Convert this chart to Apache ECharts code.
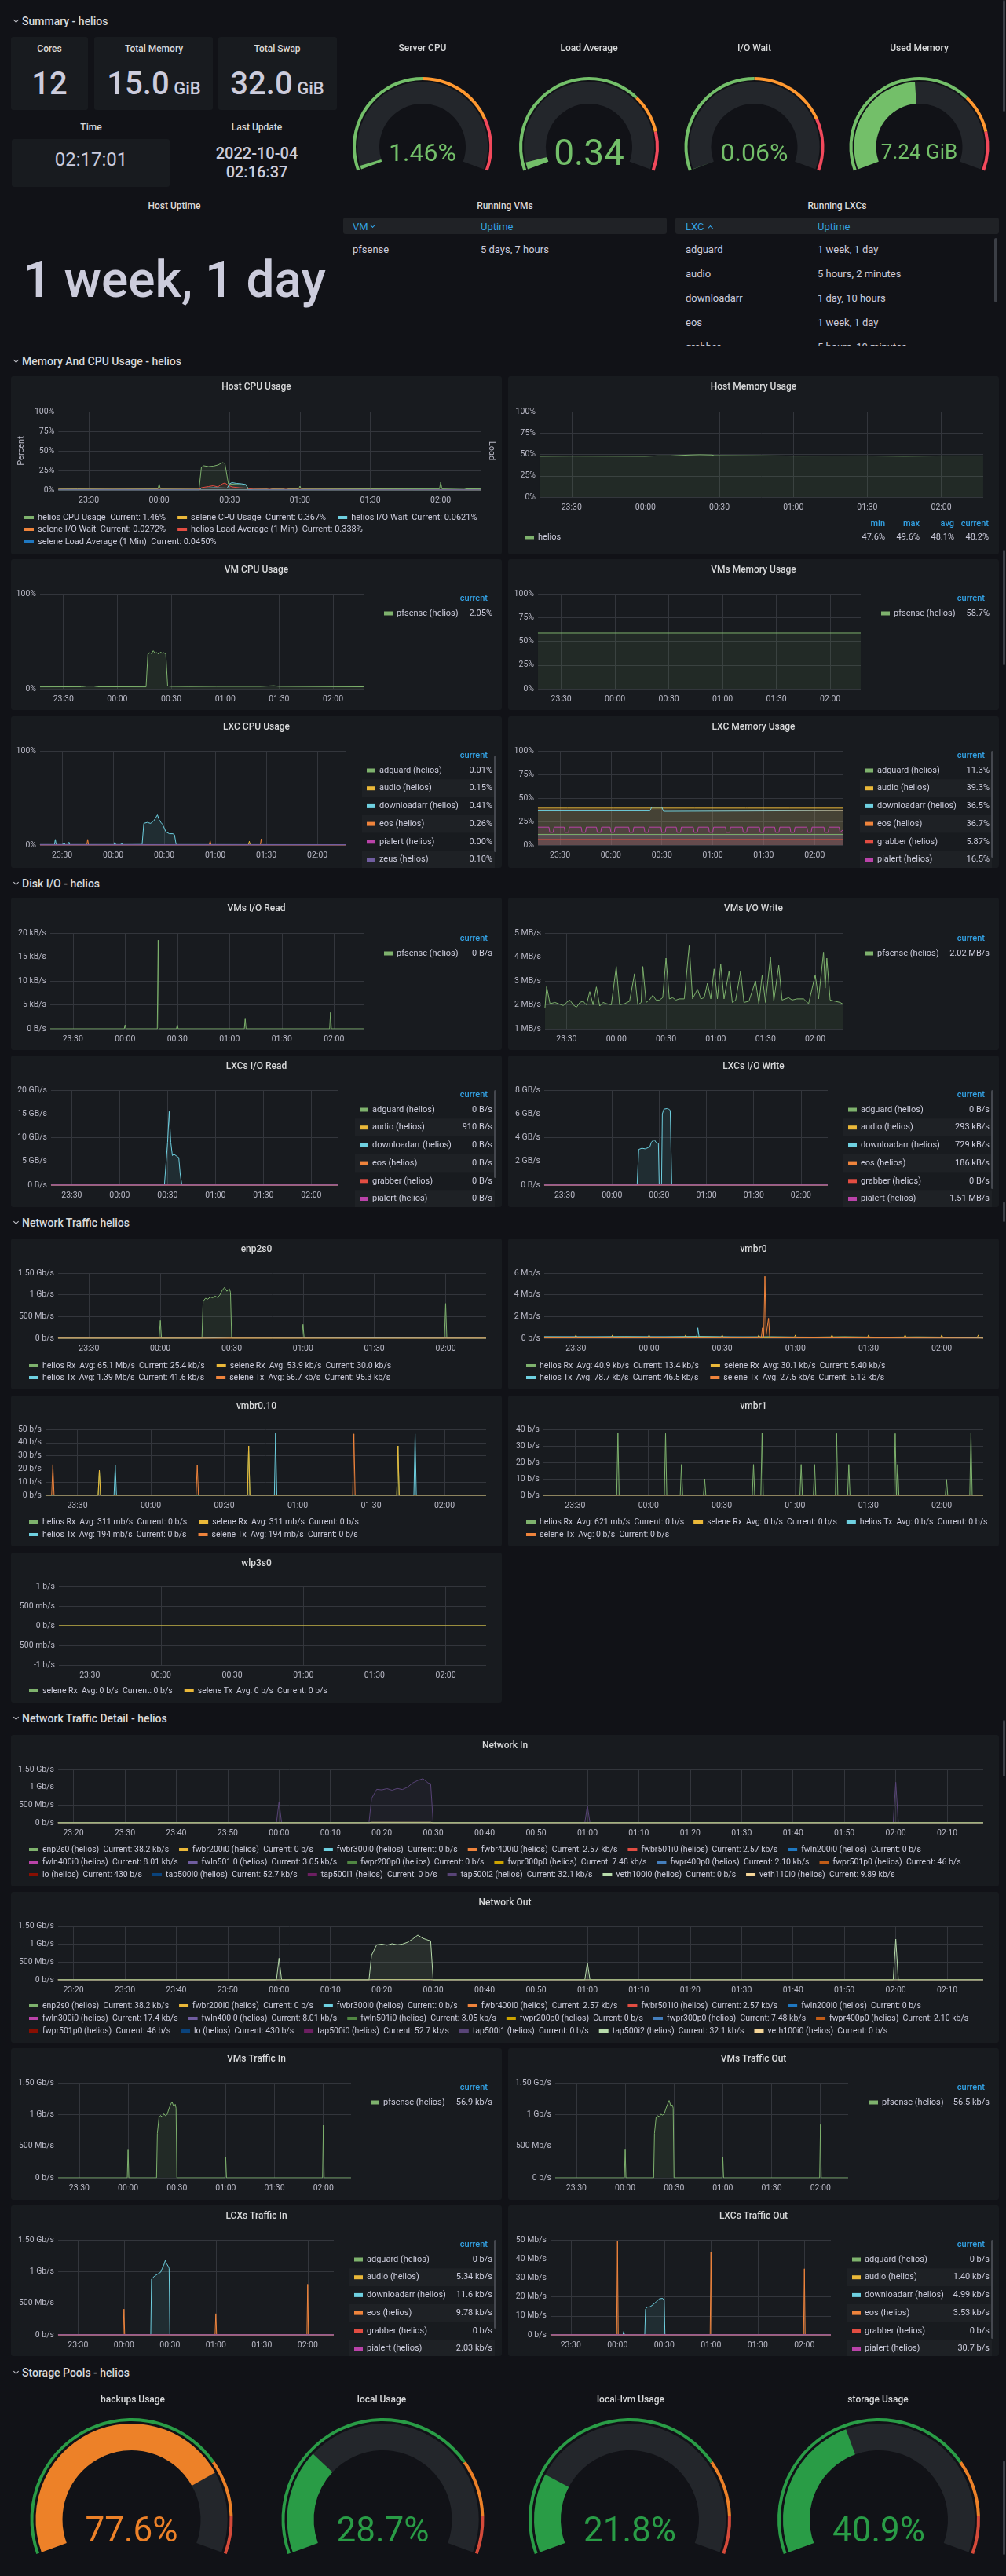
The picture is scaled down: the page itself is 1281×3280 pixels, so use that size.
<!DOCTYPE html>
<html>
<head>
<meta charset="utf-8">
<title>Proxmox - helios</title>
<script src="https://cdn.jsdelivr.net/npm/echarts@6.0.0/dist/echarts.min.js"></script>
<style>
html,body{margin:0;padding:0;background:#111217;}
body{position:relative;width:1281px;height:3280px;overflow:hidden;font-family:Roboto,"Noto Sans",sans-serif;color:#ccccdc;}
.panel{position:absolute;background:#181b1f;border-radius:3px;overflow:hidden;}
.c{position:absolute;white-space:nowrap;transform:translate(-50%,-50%);line-height:1;}
.l{position:absolute;white-space:nowrap;transform:translateY(-50%);line-height:1;}
.row{position:absolute;left:28px;font-size:14px;font-weight:500;color:#d8d9da;transform:translateY(-50%);line-height:1;white-space:nowrap;}
.chev{position:absolute;width:4px;height:4px;border-right:1.4px solid #c7c7cf;border-bottom:1.4px solid #c7c7cf;transform:rotate(45deg);}
.pt{font-size:12px;font-weight:500;color:#d8d9da;}
.th{font-size:13px;color:#33a2e5;}
.td{font-size:13px;color:#ccccdc;}
.sb{position:absolute;background:#3b3e45;border-radius:2px;}
.big{color:#ccccdc;font-weight:500;}
</style>
</head>
<body>
<script>
// ======================= DATA =======================
// --- Summary stats
const statCores = '12';
const statMemory = ['15.0', 'GiB'];
const statSwap = ['32.0', 'GiB'];
const statTime = '02:17:01';
const statLastUpdate = ['2022-10-04', '02:16:37'];
const statUptime = '1 week, 1 day';
const vmHeader = ['VM', 'Uptime'];
const vmRows = [['pfsense', '5 days, 7 hours']];
const lxcHeader = ['LXC', 'Uptime'];
const lxcRows = [['adguard', '1 week, 1 day'], ['audio', '5 hours, 2 minutes'], ['downloadarr', '1 day, 10 hours'], ['eos', '1 week, 1 day'], ['grabber', '5 hours, 10 minutes']];

// --- Summary gauges
const topGaugeNames = ['Server CPU', 'Load Average', 'I/O Wait', 'Used Memory'];
const topGaugeValues = [1.46, 0.34, 0.06, 7.24];
const topGaugeMax = [100, 12, 100, 15];
const topGaugeUnits = ['%', '', '%', ' GiB'];
const topGaugeSteps = [[0.5, 0.8], [0.7, 0.85], [0.5, 0.8], [0.7, 0.85]];

// --- Storage pools
const poolNames = ['backups Usage', 'local Usage', 'local-lvm Usage', 'storage Usage'];
const poolValues = [77.6, 28.7, 21.8, 40.9];
const poolSteps = [0.75, 0.9];

// --- time axis ticks
const TICKS30 = ['23:30', '00:00', '00:30', '01:00', '01:30', '02:00'];
const TICKS10 = ['23:20', '23:30', '23:40', '23:50', '00:00', '00:10', '00:20', '00:30', '00:40', '00:50', '01:00', '01:10', '01:20', '01:30', '01:40', '01:50', '02:00', '02:10'];

const ZERO = [['23:17', 0], ['02:17', 0]];

// --- Host CPU Usage (%)
const hostCpuNames = ['helios CPU Usage', 'selene CPU Usage', 'helios I/O Wait', 'selene I/O Wait', 'helios Load Average (1 Min)', 'selene Load Average (1 Min)'];
const hostCpuCurrent = ['1.46%', '0.367%', '0.0621%', '0.0272%', '0.338%', '0.0450%'];
const cpuHeliosCpu = [['23:17',1.6],['23:25',1.5],['23:40',1.7],['23:59:30',1.5],['00:00',7.5],['00:00:30',1.6],['00:17',1.8],['00:18',29],['00:19',31],['00:21',30],['00:23',30.5],['00:25',32],['00:27',35],['00:28',34],['00:29:30',8],['00:31',7.5],['00:34',7],['00:37',6.5],['00:38',2],['00:46',1.6],['00:47',2.6],['00:48',1.5],['00:53',1.6],['00:54',2.4],['00:55',1.5],['00:59:30',1.5],['01:00',5],['01:00:30',1.6],['01:30',1.5],['01:59:30',1.6],['02:00',10],['02:00:30',1.6],['02:10',2.2],['02:11',1.5],['02:17',1.46]];
const cpuSeleneCpu = [['23:17',0.5],['00:46:30',0.5],['00:47',2],['00:47:30',0.5],['00:52:30',0.5],['00:53',2],['00:53:30',0.5],['02:17',0.37]];
const cpuHeliosIo = [['23:17',0.2],['00:17',0.2],['00:18',2.5],['00:24',3],['00:29',2.5],['00:30',8],['00:31',9.5],['00:33',8.5],['00:35',8],['00:37',7],['00:38',0.3],['02:17',0.06]];
const cpuSeleneIo = [['23:17',0.1],['02:17',0.03]];
const cpuHeliosLoad = [['23:17',0.8],['00:17',0.8],['00:18',3],['00:21',4.5],['00:23',5.5],['00:25',4],['00:27',8],['00:28',9],['00:29',7],['00:31',4],['00:34',3],['00:37',2.5],['00:40',1],['01:00',0.8],['02:17',0.34]];
const cpuSeleneLoad = [['23:17',0.1],['02:17',0.05]];

// --- Host Memory Usage (%)
const hostMemStats = ['47.6%', '49.6%', '48.1%', '48.2%'];
const hostMemHelios = [['23:17',47.8],['23:30',48.0],['23:45',47.9],['00:00',47.8],['00:05',48.3],['00:10',48.3],['00:18',49.3],['00:22',49.6],['00:27',49.3],['00:28',48.6],['00:45',48.4],['01:00',48.1],['01:30',48.2],['01:45',47.9],['02:00',48.2],['02:17',48.2]];

// --- VM CPU / Memory (%)
const vmCpuCurrent = ['2.05%'];
const vmCpuPfsense = [['23:17',2],['23:40',2.1],['23:43',2.8],['23:47',2.8],['23:49',2.1],['00:16',2.0],['00:17',36],['00:18',38],['00:19',37],['00:20',40],['00:21',37.5],['00:22',38],['00:23',36.5],['00:24',38.5],['00:25',37.5],['00:26',38],['00:27',36],['00:28',3],['00:30',2.5],['00:40',2.3],['00:55',2.5],['01:20',2.5],['01:27',3.2],['01:30',2.5],['02:00',2.2],['02:17',2.05]];
const vmMemCurrent = ['58.7%'];
const vmMemPfsense = [['23:17',58.7],['02:17',58.7]];

// --- LXC CPU (%)
const lxcCpuNames = ['adguard (helios)', 'audio (helios)', 'downloadarr (helios)', 'eos (helios)', 'pialert (helios)', 'zeus (helios)'];
const lxcCpuCurrent = ['0.01%', '0.15%', '0.41%', '0.26%', '0.00%', '0.10%'];
const lxcCpuAdguard = [['23:17',0.3],['02:17',0.3]];
const lxcCpuAudio = [['23:17',0.2],['01:19:30',0.2],['01:20',4],['01:20:30',0.2],['02:17',0.15]];
const lxcCpuDownloadarr = [['23:17',0.5],['23:25:30',0.5],['23:26',6],['23:26:30',0.5],['23:30',0.5],['23:31',2],['23:32',0.5],['23:33:30',0.5],['23:34',3],['23:34:30',0.5],['00:00:30',0.5],['00:01',3],['00:01:30',0.5],['00:04:30',0.5],['00:05',2.5],['00:05:30',0.5],['00:17',0.6],['00:18',23],['00:20',24],['00:22',23],['00:24',26],['00:25',29],['00:26',32],['00:27',27],['00:28',24],['00:29',22],['00:31',14],['00:33',12],['00:35',12],['00:36',11],['00:37',0.5],['02:17',0.41]];
const lxcCpuEos = [['23:17',0.3],['23:44:30',0.3],['23:45',6],['23:45:30',0.3],['00:56:30',0.3],['00:57',4.5],['00:57:30',0.3],['01:26:30',0.3],['01:27',6.5],['01:27:30',0.3],['02:17',0.26]];
const lxcCpuPialert = ZERO;
const lxcCpuZeus = [['23:17',0.5],['02:17',0.4]];

// --- LXC Memory (%)
const lxcMemNames = ['adguard (helios)', 'audio (helios)', 'downloadarr (helios)', 'eos (helios)', 'grabber (helios)', 'pialert (helios)'];
const lxcMemCurrent = ['11.3%', '39.3%', '36.5%', '36.7%', '5.87%', '16.5%'];
const lxcMemAdguard = [['23:17',11.3],['02:17',11.3]];
const lxcMemAudio = [['23:17',39.3],['23:34:30',39.3],['23:35',40.5],['23:35:30',39.3],['00:00:30',39.3],['00:01',40.5],['00:01:30',39.3],['00:49:30',39.3],['00:50',40.5],['00:50:30',39.3],['01:19:30',39.3],['01:20',40.5],['01:20:30',39.3],['01:44:30',39.3],['01:45',40.5],['01:45:30',39.3],['02:17',39.3]];
const lxcMemDownloadarr = [['23:17',36.3],['00:23',36.3],['00:24',40.2],['00:30',40.2],['00:31',35.8],['01:00',36.0],['02:17',36.5]];
const lxcMemEos = [['23:17',37.3],['00:30',37.2],['01:00',37.0],['02:17',36.7]];
const lxcMemGrabber = [['23:17',5.87],['02:17',5.87]];
const lxcMemPialert = [['23:17',19],
 ['23:23:30',19],['23:24',13.5],['23:26',13.5],['23:26:30',19],
 ['23:32:30',19],['23:33',13.5],['23:35',13.5],['23:35:30',19],
 ['23:42:30',19],['23:43',13.5],['23:45',13.5],['23:45:30',19],
 ['23:51:30',19],['23:52',13.5],['23:54',13.5],['23:54:30',19],
 ['23:59:30',19],['00:00',13.5],['00:02',13.5],['00:02:30',19],
 ['00:10:30',19],['00:11',13.5],['00:13',13.5],['00:13:30',19],
 ['00:19:30',19],['00:20',13.5],['00:22',13.5],['00:22:30',19],
 ['00:29:30',19],['00:30',13.5],['00:32',13.5],['00:32:30',19],
 ['00:38:30',19],['00:39',13.5],['00:41',13.5],['00:41:30',19],
 ['00:48:30',19],['00:49',13.5],['00:51',13.5],['00:51:30',19],
 ['00:57:30',19],['00:58',13.5],['01:00',13.5],['01:00:30',19],
 ['01:07:30',19],['01:08',13.5],['01:10',13.5],['01:10:30',19],
 ['01:17:30',19],['01:18',13.5],['01:20',13.5],['01:20:30',19],
 ['01:27:30',19],['01:28',13.5],['01:30',13.5],['01:30:30',19],
 ['01:36:30',19],['01:37',13.5],['01:39',13.5],['01:39:30',19],
 ['01:45:30',19],['01:46',13.5],['01:48',13.5],['01:48:30',19],
 ['01:55:30',19],['01:56',13.5],['01:58',13.5],['01:58:30',19],
 ['02:05:30',19],['02:06',13.5],['02:08',13.5],['02:08:30',19],
 ['02:14:30',19],['02:15',13.5],['02:17',16.5]];
const lxcMemZeus = [['23:17',9.8],['02:17',9.8]];

// --- VMs I/O (kB/s read, MB/s write)
const vmReadCurrent = ['0 B/s'];
const vmReadPfsense = [['23:17',0],['23:59:30',0],['00:00',0.8],['00:00:30',0],['00:18:30',0],['00:19',18.5],['00:19:30',0],['00:29:30',0],['00:30',0.8],['00:30:30',0],['01:08:30',0],['01:09',2.2],['01:09:30',0],['01:57:30',0],['01:58',3.4],['01:58:30',0],['02:17',0]];
const vmWriteCurrent = ['2.02 MB/s'];
const vmWritePfsense = [['23:17',1.88],['23:18',2.76],['23:20',2.05],['23:23',2.1],['23:25',2.05],['23:28',1.97],['23:30',2.1],['23:32',2.2],['23:34',2.0],['23:36',1.9],['23:38',2.1],['23:40',2.15],['23:42',2.0],['23:44',2.55],['23:46',2.0],['23:48',2.75],['23:50',1.95],['23:52',2.1],['23:54',2.05],['23:57',2.0],['00:00',3.6],['00:02',2.0],['00:05',2.05],['00:08',2.15],['00:11',3.3],['00:13',2.0],['00:15',2.1],['00:16',3.6],['00:18',2.1],['00:20',2.2],['00:22',2.4],['00:24',2.2],['00:26',2.2],['00:28',2.3],['00:30',3.95],['00:32',2.25],['00:34',2.3],['00:36',2.2],['00:38',2.25],['00:41',2.25],['00:44',4.5],['00:46',2.25],['00:49',2.65],['00:51',2.25],['00:53',2.3],['00:55',2.9],['00:57',2.25],['00:59',3.5],['01:01',2.25],['01:03',3.7],['01:05',2.25],['01:08',3.4],['01:10',2.1],['01:12',2.2],['01:15',3.4],['01:17',2.1],['01:20',2.15],['01:24',3.0],['01:26',2.05],['01:28',3.25],['01:30',2.1],['01:33',4.0],['01:35',2.15],['01:38',3.65],['01:40',2.2],['01:44',2.3],['01:46',2.2],['01:49',2.25],['01:53',2.25],['01:56',2.05],['02:00',3.25],['02:02',2.25],['02:05',4.2],['02:06',2.7],['02:07',3.95],['02:09',2.2],['02:12',2.15],['02:15',2.1],['02:17',2.02]];

// --- LXCs I/O (GB/s)
const lxcIoNames = ['adguard (helios)', 'audio (helios)', 'downloadarr (helios)', 'eos (helios)', 'grabber (helios)', 'pialert (helios)'];
const lxcReadCurrent = ['0 B/s', '910 B/s', '0 B/s', '0 B/s', '0 B/s', '0 B/s'];
const lxcReadDownloadarr = [['23:17',0],['00:28',0],['00:30',9],['00:31',15.5],['00:32',9],['00:33',6.2],['00:34',6.5],['00:36',6.0],['00:37',5.8],['00:38',2],['00:39',0],['02:17',0]];
const lxcWriteCurrent = ['0 B/s', '293 kB/s', '729 kB/s', '186 kB/s', '0 B/s', '1.51 MB/s'];
const lxcWriteDownloadarr = [['23:17',0],['00:16',0],['00:17',3.0],['00:19',3.1],['00:21',3.05],['00:23',3.15],['00:24',3.2],['00:25',3.6],['00:26',3.75],['00:27',3.8],['00:28',3.6],['00:29:30',3.5],['00:30',0.1],['00:31:30',0.1],['00:32',6.0],['00:33',6.4],['00:35',6.45],['00:36',6.4],['00:37',6.3],['00:38',0],['02:17',0]];

// --- Network Traffic (per-interface)
const trafficNames = ['helios Rx', 'selene Rx', 'helios Tx', 'selene Tx'];
const enpAvg = ['65.1 Mb/s', '53.9 kb/s', '1.39 Mb/s', '66.7 kb/s'];
const enpCur = ['25.4 kb/s', '30.0 kb/s', '41.6 kb/s', '95.3 kb/s'];
const enpHeliosRx = [['23:17',0.1],['23:59:30',0.1],['00:00',410],['00:00:30',0.1],['00:17:30',0.1],['00:18',850],['00:19',920],['00:20',900],['00:21',950],['00:22',930],['00:23',970],['00:24',940],['00:25',990],['00:26',1100],['00:27',1170],['00:28',1080],['00:29',1140],['00:29:30',1060],['00:30',0.1],['00:59:30',0.1],['01:00',320],['01:00:30',0.1],['01:59:30',0.1],['02:00',800],['02:00:30',0.1],['02:17',0.03]];
const enpSeleneRx = [['23:17',0.05],['02:17',0.03]];
const enpHeliosTx = [['23:17',1],['00:17:30',1],['00:18',20],['00:29:30',20],['00:30',1],['02:17',0.04]];
const enpSeleneTx = [['23:17',0.1],['02:17',0.1]];

const vmbr0Avg = ['40.9 kb/s', '30.1 kb/s', '78.7 kb/s', '27.5 kb/s'];
const vmbr0Cur = ['13.4 kb/s', '5.40 kb/s', '46.5 kb/s', '5.12 kb/s'];
const vmbr0HeliosRx = [['23:17',0.12],['23:35',0.1],['23:50',0.15],['00:05',0.1],['00:20',0.18],['00:35',0.1],['00:50',0.14],['01:05',0.1],['01:20',0.15],['01:35',0.1],['01:50',0.13],['02:05',0.1],['02:17',0.013]];
const vmbr0SeleneRx = [['23:17',0.05],['23:29:30',0.05],['23:30',0.3],['23:30:30',0.05],['23:44:30',0.05],['23:45',0.3],['23:45:30',0.05],['23:59:30',0.05],['00:00',0.3],['00:00:30',0.05],['00:14:30',0.05],['00:15',0.3],['00:15:30',0.05],['00:29:30',0.05],['00:30',0.3],['00:30:30',0.05],['00:44:30',0.05],['00:45',0.3],['00:45:30',0.05],['00:59:30',0.05],['01:00',0.3],['01:00:30',0.05],['01:14:30',0.05],['01:15',0.3],['01:15:30',0.05],['01:29:30',0.05],['01:30',0.3],['01:30:30',0.05],['01:44:30',0.05],['01:45',0.3],['01:45:30',0.05],['01:59:30',0.05],['02:00',0.3],['02:00:30',0.05],['02:14:30',0.05],['02:15',0.3],['02:15:30',0.05],['02:17',0.005]];
const vmbr0HeliosTx = [['23:17',0.15],['00:19:30',0.15],['00:20',0.96],['00:20:30',0.15],['02:17',0.05]];
const vmbr0SeleneTx = [['23:17',0.05],['00:46',0.05],['00:46:30',0.96],['00:47',0.05],['00:47:30',5.7],['00:48',0.3],['00:48:30',0.3],['00:49',1.85],['00:49:30',0.05],['02:17',0.005]];

const vmbr010Avg = ['311 mb/s', '311 mb/s', '194 mb/s', '194 mb/s'];
const vmbr010Cur = ['0 b/s', '0 b/s', '0 b/s', '0 b/s'];
const vmbr010SeleneRx = [['23:17',0],['23:38:30',0],['23:39',19],['23:39:30',0],['00:39:30',0],['00:40',37.5],['00:40:30',0],['01:40:30',0],['01:41',37.5],['01:41:30',0],['02:17',0]];
const vmbr010HeliosRx = vmbr010SeleneRx;
const vmbr010HeliosTx = [['23:17',0],['23:45',0],['23:45:30',23],['23:46',0],['00:50:30',0],['00:51',47],['00:51:30',0],['01:47:30',0],['01:48',46.6],['01:48:30',0],['02:17',0]];
const vmbr010SeleneTx = [['23:17',0],['23:19:30',0],['23:20',23.3],['23:20:30',0],['00:18:30',0],['00:19',23],['00:19:30',0],['01:22:30',0],['01:23',46.6],['01:23:30',0],['02:17',0]];

const vmbr1Avg = ['621 mb/s', '0 b/s', '0 b/s', '0 b/s'];
const vmbr1Cur = ['0 b/s', '0 b/s', '0 b/s', '0 b/s'];
const vmbr1HeliosRx = [['23:17',0],['23:47',0],['23:47:30',37.8],['23:48',0],['00:06:30',0],['00:07',37.5],['00:07:30',0],['00:13',0],['00:13:30',18.7],['00:14',0],['00:22:30',0],['00:23',10],['00:23:30',0],['00:42:30',0],['00:43',18.7],['00:43:30',0],['00:46',0],['00:46:30',37.8],['00:47',0],['01:02',0],['01:02:30',18.7],['01:03',0],['01:07:30',0],['01:08',18.7],['01:08:30',0],['01:16:30',0],['01:17',37.5],['01:17:30',0],['01:21:30',0],['01:22',18.7],['01:22:30',0],['01:40:30',0],['01:41',37.5],['01:41:30',0],['01:42',18.7],['01:42:30',0],['02:01:30',0],['02:02',9.7],['02:02:30',0],['02:11:30',0],['02:12',37.8],['02:12:30',0],['02:17',0]];

const wlpNames = ['selene Rx', 'selene Tx'];
const wlpAvg = ['0 b/s', '0 b/s'];
const wlpCur = ['0 b/s', '0 b/s'];

// --- Network Traffic Detail (Mb/s)
const netInNames = ['enp2s0','fwbr200i0','fwbr300i0','fwbr400i0','fwbr501i0','fwln200i0','fwln400i0','fwln501i0','fwpr200p0','fwpr300p0','fwpr400p0','fwpr501p0','lo','tap500i0','tap500i1','tap500i2','veth100i0','veth110i0'];
const netInCurrent = ['38.2 kb/s','0 b/s','0 b/s','2.57 kb/s','2.57 kb/s','0 b/s','8.01 kb/s','3.05 kb/s','0 b/s','7.48 kb/s','2.10 kb/s','46 b/s','430 b/s','52.7 kb/s','0 b/s','32.1 kb/s','0 b/s','9.89 kb/s'];
const netInTap500i2 = [['23:17',0.05],['23:59:30',0.05],['00:00',595],['00:00:30',0.05],['00:17:30',0.05],['00:18',680],['00:19',940],['00:20',925],['00:21',960],['00:22',915],['00:23',965],['00:24',935],['00:25',1000],['00:26',1120],['00:27',1190],['00:28',1240],['00:29',1120],['00:29:30',1100],['00:30',0.05],['00:59:30',0.05],['01:00',478],['01:00:30',0.05],['01:59:30',0.05],['02:00',1140],['02:00:30',0.05],['02:17',0.03]];
const netInVeth110i0 = [['23:17',0.01],['00:17:30',0.01],['00:18',15],['00:29:30',15],['00:30',0.01],['02:17',0.01]];
const netOutNames = ['enp2s0','fwbr200i0','fwbr300i0','fwbr400i0','fwbr501i0','fwln200i0','fwln300i0','fwln400i0','fwln501i0','fwpr200p0','fwpr300p0','fwpr400p0','fwpr501p0','lo','tap500i0','tap500i1','tap500i2','veth100i0'];
const netOutCurrent = ['38.2 kb/s','0 b/s','0 b/s','2.57 kb/s','2.57 kb/s','0 b/s','17.4 kb/s','8.01 kb/s','3.05 kb/s','0 b/s','7.48 kb/s','2.10 kb/s','46 b/s','430 b/s','52.7 kb/s','0 b/s','32.1 kb/s','0 b/s'];
const netOutTap500i2 = [['23:17',0.05],['23:59:30',0.05],['00:00',600],['00:00:30',0.05],['00:17:30',0.05],['00:18',680],['00:19',970],['00:20',990],['00:21',960],['00:22',1000],['00:23',970],['00:24',990],['00:25',1040],['00:26',1130],['00:27',1240],['00:28',1150],['00:29',1100],['00:29:30',1080],['00:30',0.05],['00:59:30',0.05],['01:00',480],['01:00:30',0.05],['01:59:30',0.05],['02:00',1130],['02:00:30',0.05],['02:17',0.03]];
const netOutVeth100i0 = [['23:17',0.01],['00:17:30',0.01],['00:18',10],['00:29:30',10],['00:30',0.01],['02:17',0.01]];

// --- VMs Traffic (Mb/s)
const vmInCurrent = ['56.9 kb/s'];
const vmInPfsense = [['23:17',0.06],['23:59:30',0.06],['00:00',452],['00:00:30',0.06],['00:17:30',0.06],['00:18',700],['00:19',950],['00:20',985],['00:21',960],['00:22',1010],['00:23',980],['00:24',1000],['00:25',1080],['00:26',1150],['00:27',1200],['00:28',1130],['00:29',1160],['00:29:30',1100],['00:30',0.06],['00:59:30',0.06],['01:00',329],['01:00:30',0.06],['01:59:30',0.06],['02:00',830],['02:00:30',0.06],['02:17',0.057]];
const vmOutCurrent = ['56.5 kb/s'];
const vmOutPfsense = [['23:17',0.06],['23:59:30',0.06],['00:00',455],['00:00:30',0.06],['00:17:30',0.06],['00:18',700],['00:19',955],['00:20',980],['00:21',965],['00:22',1005],['00:23',990],['00:24',1010],['00:25',1090],['00:26',1160],['00:27',1220],['00:28',1140],['00:29',1150],['00:29:30',1100],['00:30',0.06],['00:59:30',0.06],['01:00',330],['01:00:30',0.06],['01:59:30',0.06],['02:00',840],['02:00:30',0.06],['02:17',0.056]];

// --- LXCs Traffic (Mb/s)
const lxcNetNames = ['adguard (helios)', 'audio (helios)', 'downloadarr (helios)', 'eos (helios)', 'grabber (helios)', 'pialert (helios)'];
const lxcInCurrent = ['0 b/s', '5.34 kb/s', '11.6 kb/s', '9.78 kb/s', '0 b/s', '2.03 kb/s'];
const lxcInDownloadarr = [['23:17',0.01],['00:17:30',0.01],['00:18',880],['00:19',905],['00:20',930],['00:21',910],['00:22',960],['00:23',940],['00:24',990],['00:25',1050],['00:26',1100],['00:27',1175],['00:28',1120],['00:29',1080],['00:29:30',1050],['00:30',0.01],['02:17',0.012]];
const lxcInEos = [['23:17',0.01],['23:59:30',0.01],['00:00',407],['00:00:30',0.01],['00:59:30',0.01],['01:00',336],['01:00:30',0.01],['01:59:30',0.01],['02:00',800],['02:00:30',0.01],['02:17',0.01]];
const lxcOutCurrent = ['0 b/s', '1.40 kb/s', '4.99 kb/s', '3.53 kb/s', '0 b/s', '30.7 b/s'];
const lxcOutDownloadarr = [['23:17',0.005],['00:03:30',0.005],['00:04',1.8],['00:04:30',0.005],['00:17:30',0.005],['00:18',13.5],['00:19',14.6],['00:20',15],['00:21',14.8],['00:22',15.5],['00:23',16],['00:24',16.5],['00:25',17.5],['00:26',18.2],['00:27',19],['00:28',18.5],['00:29',19.2],['00:30',18],['00:30:30',0.005],['02:17',0.005]];
const lxcOutEos = [['23:17',0.005],['23:59:30',0.005],['00:00',49.3],['00:00:30',0.005],['00:59:30',0.005],['01:00',43.8],['01:00:30',0.005],['01:59:30',0.005],['02:00',34.8],['02:00:30',0.005],['02:17',0.005]];

// ======================= STYLE =======================
const FONT = 'Roboto, "Noto Sans", sans-serif';
const GRID = '#33363c', LAB = '#b9b9c6', TXT = '#ccccdc', TITLE = '#d8d9da', BLUE = '#33a2e5', TRACK = '#23262b';
const C = {green:'#7EB26D', yellow:'#EAB839', cyan:'#6ED0E0', orange:'#EF843C', red:'#E24D42', blue:'#1F78C1', magenta:'#BA43A9', violet:'#705DA0'};
const PAL18 = ['#7EB26D','#EAB839','#6ED0E0','#EF843C','#E24D42','#1F78C1','#BA43A9','#705DA0','#508642','#CCA300','#447EBC','#C15C17','#890F02','#0A437C','#6D1F62','#584477','#B7DBAB','#F4D598'];
const LXC_COL = {'adguard (helios)':C.green,'audio (helios)':C.yellow,'downloadarr (helios)':C.cyan,'eos (helios)':C.orange,'grabber (helios)':C.red,'pialert (helios)':C.magenta,'zeus (helios)':C.violet};

// ======================= HELPERS =======================
function T(s){const a=s.split(':').map(Number);let h=a[0];if(h>=12)h-=24;return h*60+a[1]+(a.length>2?a[2]/60:0);}
function hhmm(v){let t=Math.round(v);t=((t%1440)+1440)%1440;return String(Math.floor(t/60)).padStart(2,'0')+':'+String(t%60).padStart(2,'0');}
const X0 = T('23:17:01'), X1 = T('02:17:01');

function mkDiv(x,y,w,h,cls){const d=document.createElement('div');if(cls)d.className=cls;Object.assign(d.style,{position:'absolute',left:x+'px',top:y+'px',width:w+'px',height:h+'px'});document.body.appendChild(d);return d;}
function txt(x,y,html,cls,style){const d=document.createElement('div');d.className=cls;d.style.left=x+'px';d.style.top=y+'px';d.innerHTML=html;if(style)Object.assign(d.style,style);document.body.appendChild(d);return d;}
function chev(x,y,up){const d=document.createElement('div');d.className='chev';d.style.left=x+'px';d.style.top=y+'px';if(up){d.style.transform='rotate(225deg)';}document.body.appendChild(d);return d;}

function tsPanel(c){
  const pd = mkDiv(c.x,c.y,c.w,c.h,'panel');
  const chart = echarts.init(pd,null,{renderer:'canvas'});
  const ticks = (c.ticks||TICKS30).map(T);
  const ya = c.ya;
  const opt = {
    animation:false,
    textStyle:{fontFamily:FONT},
    title:{text:c.title,left:'center',top:8,padding:0,textStyle:{color:TITLE,fontSize:12,fontWeight:500,fontFamily:FONT}},
    grid:{left:c.grid[0],top:c.grid[1],width:c.grid[2],height:c.grid[3]},
    xAxis:{type:'value',min:X0,max:X1,axisLine:{show:false},axisTick:{show:false,customValues:ticks},
      axisLabel:{customValues:ticks,formatter:v=>hhmm(v),color:LAB,fontSize:10.5,margin:8,fontFamily:FONT},
      splitLine:{show:true,lineStyle:{color:GRID,width:1}}},
    yAxis:[{type:'value',min:ya.min,max:ya.max,interval:ya.step,axisLine:{show:false},axisTick:{show:false},
      axisLabel:{color:LAB,fontSize:10.5,margin:5,fontFamily:FONT,formatter:v=>ya.labels[Math.round((v-ya.min)/ya.step)]||''},
      splitLine:{show:true,lineStyle:{color:GRID,width:1}}}],
    series:c.series.map(s=>({type:'line',name:s.name,data:s.data.map(p=>[T(p[0]),p[1]]),symbol:'none',showSymbol:false,
      lineStyle:{width:1,color:s.color},itemStyle:{color:s.color},areaStyle:{color:s.color,opacity:0.1},z:s.z||2,silent:true,animation:false})),
    legend:[], graphic:[]
  };
  if(c.yNames){
    Object.assign(opt.yAxis[0],{name:c.yNames[0],nameLocation:'middle',nameRotate:90,nameGap:41,nameTextStyle:{color:LAB,fontSize:11,fontFamily:FONT}});
    opt.yAxis.push({type:'value',position:'right',min:0,max:1,name:c.yNames[1],nameLocation:'middle',nameRotate:-90,nameGap:8,nameTextStyle:{color:LAB,fontSize:11,fontFamily:FONT},axisLabel:{show:false},axisLine:{show:false},axisTick:{show:false},splitLine:{show:false}});
  }
  if(c.bottom){
    const b=c.bottom, fs=b.fs||10.5;
    b.rows.forEach((r,i)=>opt.legend.push({data:r,orient:'horizontal',left:b.left,top:b.tops[i]-7,width:3000,icon:'rect',itemWidth:12,itemHeight:4,itemGap:b.gap||15,padding:0,selectedMode:false,
      formatter:n=>n+'  '+b.fmt(n),textStyle:{color:TXT,fontSize:fs,lineHeight:14,fontFamily:FONT}}));
  }
  if(c.table){
    const t=c.table, rowH=22.7, vr=613, tl=t.left+16, vw=t.vw||40, nw=vr-tl-vw;
    t.names.forEach((n,i)=>{ if(i%2===1) opt.graphic.push({type:'rect',z:0,shape:{x:t.left-6,y:t.top-rowH/2+i*rowH,width:vr-t.left+9,height:rowH},style:{fill:'rgba(255,255,255,0.028)'},silent:true}); });
    t.names.forEach((n,i)=>opt.legend.push({data:[n],orient:'horizontal',left:t.left,top:t.top+i*rowH-7,icon:'rect',itemWidth:11,itemHeight:5,padding:0,selectedMode:false,
      formatter:nm=>'{n|'+nm+'}{v|'+t.values[t.names.indexOf(nm)]+'}',
      textStyle:{color:TXT,fontSize:11,lineHeight:14,fontFamily:FONT,rich:{n:{width:nw,lineHeight:14,fontSize:11,color:TXT,fontFamily:FONT},v:{width:vw,align:'right',lineHeight:14,fontSize:11,color:TXT,fontFamily:FONT}}}}));
    opt.graphic.push({type:'text',x:vr-6,y:t.top-19,silent:true,style:{text:'current',fill:BLUE,font:'500 11px '+FONT,align:'right',textAlign:'right',verticalAlign:'middle',textVerticalAlign:'middle'}});
    if(t.scroll) opt.graphic.push({type:'rect',silent:true,shape:{x:vr+2,y:t.scroll[0],width:3,height:t.scroll[1]-t.scroll[0],r:1.5},style:{fill:'#45484f'}});
  }
  if(c.extra) c.extra(opt);
  chart.setOption(opt);
  return chart;
}
function lxcSeries(names, dataMap){return names.map(n=>({name:n,color:LXC_COL[n],data:dataMap[n]||ZERO}));}

// ======================= SECTION HEADERS =======================
const sectionHeaders = [['Summary - helios',27],['Memory And CPU Usage - helios',460],['Disk I/O - helios',1125],['Network Traffic helios',1557],['Network Traffic Detail - helios',2188],['Storage Pools - helios',3021]];
sectionHeaders.forEach(([s,y])=>{txt(28,y,s,'row');chev(18,y-4);});

// decorative page scrollbar fragments
[[0,142],[700,847],[1530,1556],[2190,2262],[3133,3253]].forEach(([a,b])=>{mkDiv(1277,a,3,b-a,'sb');});

// ======================= SUMMARY =======================
mkDiv(14,47,98,93,'panel'); mkDiv(120,47,151,93,'panel'); mkDiv(278,47,151,93,'panel');
txt(63,62,'Cores','c pt'); txt(196,62,'Total Memory','c pt'); txt(353,62,'Total Swap','c pt');
txt(63,107,statCores,'c big',{fontSize:'40px'});
txt(196,107,statMemory[0]+'<span style="font-size:22px"> '+statMemory[1]+'</span>','c big',{fontSize:'40px'});
txt(353,107,statSwap[0]+'<span style="font-size:22px"> '+statSwap[1]+'</span>','c big',{fontSize:'40px'});
txt(116,162,'Time','c pt'); mkDiv(15,177,201,61,'panel');
txt(116,203,statTime,'c big',{fontSize:'24px',fontWeight:'400'});
txt(327,162,'Last Update','c pt');
txt(327,195,statLastUpdate[0],'c big',{fontSize:'20px'}); txt(327,219,statLastUpdate[1],'c big',{fontSize:'20px'});
txt(222,262,'Host Uptime','c pt');
txt(222,357,statUptime,'c big',{fontSize:'64px'});

// tables
txt(643,262,'Running VMs','c pt');
mkDiv(437,277,412,21,'panel').style.background='#202226';
txt(449,288,vmHeader[0],'l th'); chev(472,284,false).style.borderColor='#33a2e5';
txt(612,288,vmHeader[1],'l th');
vmRows.forEach((r,i)=>{txt(449,317+31*i,r[0],'l td');txt(612,317+31*i,r[1],'l td');});
txt(1066,262,'Running LXCs','c pt');
mkDiv(860,277,412,21,'panel').style.background='#202226';
txt(873,288,lxcHeader[0],'l th'); chev(902,288,true).style.borderColor='#33a2e5';
txt(1041,288,lxcHeader[1],'l th');
const clip = mkDiv(860,300,400,140,''); clip.style.overflow='hidden';
lxcRows.forEach((r,i)=>{
  const a=document.createElement('div');a.className='l td';a.style.left='13px';a.style.top=(17+31*i)+'px';a.textContent=r[0];clip.appendChild(a);
  const b=document.createElement('div');b.className='l td';b.style.left='181px';b.style.top=(17+31*i)+'px';b.textContent=r[1];clip.appendChild(b);
});
mkDiv(1266,303,4,82,'sb');

// gauges (summary)
function gaugePair(cx,cy,r,ringW,gap,trackW,val,max,steps,cols,text,fs,dy){
  const frac=val/max; const col=frac>=steps[1]?cols[2]:(frac>=steps[0]?cols[1]:cols[0]);
  const base={type:'gauge',center:[cx,cy],startAngle:200,endAngle:-20,min:0,max:max,pointer:{show:false},axisTick:{show:false},splitLine:{show:false},axisLabel:{show:false},title:{show:false},animation:false,silent:true};
  return [
    Object.assign({},base,{radius:r,axisLine:{lineStyle:{width:ringW,color:[[steps[0],cols[0]],[steps[1],cols[1]],[1,cols[2]]]}},detail:{show:false},data:[{value:0}]}),
    Object.assign({},base,{radius:r-ringW-gap,axisLine:{lineStyle:{width:trackW,color:[[1,TRACK]]}},progress:{show:true,width:trackW,itemStyle:{color:col}},
      detail:{show:true,offsetCenter:[0,dy],formatter:()=>text,color:col,fontSize:fs,fontFamily:FONT,fontWeight:400,valueAnimation:false},data:[{value:val}]})
  ];
}
(function(){
  const d=mkDiv(430,40,851,200,''); const ch=echarts.init(d);
  const cx=[108,320,530.5,740.5], fs=[32,46,32,26], dy=[10,11,10,8];
  let series=[], graphic=[];
  topGaugeNames.forEach((n,i)=>{
    const v=topGaugeValues[i];
    series=series.concat(gaugePair(cx[i],147,89,4,2,28,v,topGaugeMax[i],topGaugeSteps[i],['#73BF69','#FF9830','#F2495C'],v.toFixed(2)+topGaugeUnits[i],fs[i],dy[i]));
    graphic.push({type:'text',x:cx[i],y:22,silent:true,style:{text:n,fill:TITLE,font:'500 12px '+FONT,align:'center',textAlign:'center',verticalAlign:'middle',textVerticalAlign:'middle'}});
  });
  ch.setOption({animation:false,series,graphic});
})();

// ======================= MEMORY AND CPU =======================
const hostCpuColors=[C.green,C.yellow,C.cyan,C.orange,C.red,C.blue];
const hostCpuData=[cpuHeliosCpu,cpuSeleneCpu,cpuHeliosIo,cpuSeleneIo,cpuHeliosLoad,cpuSeleneLoad];
const PCT4={min:0,max:100,step:25,labels:['0%','25%','50%','75%','100%']};
const PCT1={min:0,max:100,step:100,labels:['0%','100%']};
tsPanel({title:'Host CPU Usage',x:14,y:479,w:625,h:227,grid:[56,45,546,100],ya:PCT4,yNames:['Percent','Load'],
  series:hostCpuNames.map((n,i)=>({name:n,color:hostCpuColors[i],data:hostCpuData[i]})),
  bottom:{left:17,fs:11,tops:[180,195,211],rows:[hostCpuNames.slice(0,3),hostCpuNames.slice(3,5),hostCpuNames.slice(5)],fmt:n=>'Current: '+hostCpuCurrent[hostCpuNames.indexOf(n)]}});
tsPanel({title:'Host Memory Usage',x:647,y:479,w:625,h:227,grid:[40,45,565,109],ya:PCT4,
  series:[{name:'helios',color:C.green,data:hostMemHelios}],
  extra:opt=>{
    opt.legend.push({data:['helios'],orient:'horizontal',left:21,top:200,icon:'rect',itemWidth:12,itemHeight:4,padding:0,selectedMode:false,
      formatter:n=>'{n|'+n+'}{a|'+hostMemStats[0]+'}{b|'+hostMemStats[1]+'}{c|'+hostMemStats[2]+'}{d|'+hostMemStats[3]+'}',
      textStyle:{color:TXT,fontSize:11,fontFamily:FONT,rich:{n:{width:398,lineHeight:16,fontSize:11,color:TXT},a:{width:44,align:'right',lineHeight:16,fontSize:11,color:TXT},b:{width:44,align:'right',lineHeight:16,fontSize:11,color:TXT},c:{width:44,align:'right',lineHeight:16,fontSize:11,color:TXT},d:{width:44,align:'right',lineHeight:16,fontSize:11,color:TXT}}}});
    ['min','max','avg','current'].forEach((h,i)=>opt.graphic.push({type:'text',x:480+44*i,y:188,silent:true,style:{text:h,fill:BLUE,font:'500 11px '+FONT,align:'right',textAlign:'right',verticalAlign:'middle',textVerticalAlign:'middle'}}));
  }});
tsPanel({title:'VM CPU Usage',x:14,y:712,w:625,h:192,grid:[37,44,412,121],ya:PCT1,
  series:[{name:'pfsense (helios)',color:C.green,data:vmCpuPfsense}],
  table:{left:475,top:69,names:['pfsense (helios)'],values:vmCpuCurrent}});
tsPanel({title:'VMs Memory Usage',x:647,y:712,w:625,h:192,grid:[38,44,411,121],ya:PCT4,
  series:[{name:'pfsense (helios)',color:C.green,data:vmMemPfsense}],
  table:{left:475,top:69,names:['pfsense (helios)'],values:vmMemCurrent}});
tsPanel({title:'LXC CPU Usage',x:14,y:912,w:625,h:193,grid:[37,44,390,120],ya:PCT1,
  series:lxcSeries(lxcCpuNames,{'adguard (helios)':lxcCpuAdguard,'audio (helios)':lxcCpuAudio,'downloadarr (helios)':lxcCpuDownloadarr,'eos (helios)':lxcCpuEos,'pialert (helios)':lxcCpuPialert,'zeus (helios)':lxcCpuZeus}),
  table:{left:453,top:69,names:lxcCpuNames,values:lxcCpuCurrent,scroll:[50,173]}});
tsPanel({title:'LXC Memory Usage',x:647,y:912,w:625,h:193,grid:[38,44,389,120],ya:PCT4,
  series:lxcSeries(lxcMemNames.concat(['zeus (helios)']),{'adguard (helios)':lxcMemAdguard,'audio (helios)':lxcMemAudio,'downloadarr (helios)':lxcMemDownloadarr,'eos (helios)':lxcMemEos,'grabber (helios)':lxcMemGrabber,'pialert (helios)':lxcMemPialert,'zeus (helios)':lxcMemZeus}),
  table:{left:454,top:69,names:lxcMemNames,values:lxcMemCurrent,scroll:[44,180]}});

// ======================= DISK I/O =======================
tsPanel({title:'VMs I/O Read',x:14,y:1143,w:625,h:194,grid:[50,45,399,122],ya:{min:0,max:20,step:5,labels:['0 B/s','5 kB/s','10 kB/s','15 kB/s','20 kB/s']},
  series:[{name:'pfsense (helios)',color:C.green,data:vmReadPfsense}],
  table:{left:475,top:71,names:['pfsense (helios)'],values:vmReadCurrent}});
tsPanel({title:'VMs I/O Write',x:647,y:1143,w:625,h:194,grid:[47,45,380,122],ya:{min:1,max:5,step:1,labels:['1 MB/s','2 MB/s','3 MB/s','4 MB/s','5 MB/s']},
  series:[{name:'pfsense (helios)',color:C.green,data:vmWritePfsense}],
  table:{left:454,top:71,names:['pfsense (helios)'],values:vmWriteCurrent,vw:55}});
tsPanel({title:'LXCs I/O Read',x:14,y:1344,w:625,h:193,grid:[51,44,366,121],ya:{min:0,max:20,step:5,labels:['0 B/s','5 GB/s','10 GB/s','15 GB/s','20 GB/s']},
  series:lxcSeries(lxcIoNames.concat(['zeus (helios)']),{'downloadarr (helios)':lxcReadDownloadarr}),
  table:{left:444,top:69,names:lxcIoNames,values:lxcReadCurrent,vw:48,scroll:[44,156]}});
tsPanel({title:'LXCs I/O Write',x:647,y:1344,w:625,h:193,grid:[46,44,361,121],ya:{min:0,max:8,step:2,labels:['0 B/s','2 GB/s','4 GB/s','6 GB/s','8 GB/s']},
  series:lxcSeries(lxcIoNames.concat(['zeus (helios)']),{'downloadarr (helios)':lxcWriteDownloadarr}),
  table:{left:433,top:69,names:lxcIoNames,values:lxcWriteCurrent,vw:55,scroll:[44,170]}});

// ======================= NETWORK TRAFFIC =======================
const trafficColors=[C.green,C.yellow,C.cyan,C.orange];
function trafficFmt(avg,cur,names){return n=>{const i=(names||trafficNames).indexOf(n);return 'Avg: '+avg[i]+'  Current: '+cur[i];};}
const MBPS={min:0,max:1500,step:500,labels:['0 b/s','500 Mb/s','1 Gb/s','1.50 Gb/s']};
tsPanel({title:'enp2s0',x:14,y:1577,w:625,h:192,grid:[60,44,545,83],ya:MBPS,
  series:[enpHeliosRx,enpSeleneRx,enpHeliosTx,enpSeleneTx].map((d,i)=>({name:trafficNames[i],color:trafficColors[i],data:d})),
  bottom:{left:23,tops:[162,177],rows:[[trafficNames[0],trafficNames[1]],[trafficNames[2],trafficNames[3]]],fmt:trafficFmt(enpAvg,enpCur)}});
tsPanel({title:'vmbr0',x:647,y:1577,w:625,h:192,grid:[46,44,559,83],ya:{min:0,max:6,step:2,labels:['0 b/s','2 Mb/s','4 Mb/s','6 Mb/s']},
  series:[vmbr0HeliosRx,vmbr0SeleneRx,vmbr0HeliosTx,vmbr0SeleneTx].map((d,i)=>({name:trafficNames[i],color:trafficColors[i],data:d})),
  bottom:{left:23,tops:[162,177],rows:[[trafficNames[0],trafficNames[1]],[trafficNames[2],trafficNames[3]]],fmt:trafficFmt(vmbr0Avg,vmbr0Cur)}});
tsPanel({title:'vmbr0.10',x:14,y:1777,w:625,h:192,grid:[44,43,561,84],ya:{min:0,max:50,step:10,labels:['0 b/s','10 b/s','20 b/s','30 b/s','40 b/s','50 b/s']},
  series:[vmbr010HeliosRx,vmbr010SeleneRx,vmbr010HeliosTx,vmbr010SeleneTx].map((d,i)=>({name:trafficNames[i],color:trafficColors[i],data:d})),
  bottom:{left:23,tops:[161,177],rows:[[trafficNames[0],trafficNames[1]],[trafficNames[2],trafficNames[3]]],fmt:trafficFmt(vmbr010Avg,vmbr010Cur)}});
tsPanel({title:'vmbr1',x:647,y:1777,w:625,h:192,grid:[45,43,560,84],ya:{min:0,max:40,step:10,labels:['0 b/s','10 b/s','20 b/s','30 b/s','40 b/s']},
  series:[vmbr1HeliosRx,ZERO,ZERO,ZERO].map((d,i)=>({name:trafficNames[i],color:trafficColors[i],data:d})),
  bottom:{left:23,tops:[161,177],gap:12,rows:[[trafficNames[0],trafficNames[1],trafficNames[2]],[trafficNames[3]]],fmt:trafficFmt(vmbr1Avg,vmbr1Cur)}});
tsPanel({title:'wlp3s0',x:14,y:1977,w:625,h:191,grid:[61,43,544,100],ya:{min:-1,max:1,step:0.5,labels:['-1 b/s','-500 mb/s','0 b/s','500 mb/s','1 b/s']},
  series:[ZERO,ZERO].map((d,i)=>({name:wlpNames[i],color:trafficColors[i],data:d})),
  bottom:{left:23,tops:[176],rows:[wlpNames],fmt:trafficFmt(wlpAvg,wlpCur,wlpNames)}});

// ======================= NETWORK TRAFFIC DETAIL =======================
function detailSeries(names,map){return names.map((n,i)=>({name:n+' (helios)',color:PAL18[i],data:map[n]||ZERO,z:n==='enp2s0'?3:2}));}
function detailRows(names){const f=names.map(n=>n+' (helios)');return [f.slice(0,6),f.slice(6,12),f.slice(12,18)];}
tsPanel({title:'Network In',x:14,y:2209,w:1258,h:193,grid:[60,44,1178,68],ya:MBPS,ticks:TICKS10,
  series:detailSeries(netInNames,{tap500i2:netInTap500i2,veth110i0:netInVeth110i0}),
  bottom:{left:23,gap:13,tops:[146,162,178],rows:detailRows(netInNames),fmt:n=>'Current: '+netInCurrent[netInNames.indexOf(n.replace(' (helios)',''))]}});
tsPanel({title:'Network Out',x:14,y:2409,w:1258,h:192,grid:[60,43,1178,69],ya:MBPS,ticks:TICKS10,
  series:detailSeries(netOutNames,{tap500i2:netOutTap500i2,veth100i0:netOutVeth100i0}),
  bottom:{left:23,gap:13,tops:[145,161,177],rows:detailRows(netOutNames),fmt:n=>'Current: '+netOutCurrent[netOutNames.indexOf(n.replace(' (helios)',''))]}});
tsPanel({title:'VMs Traffic In',x:14,y:2608,w:625,h:193,grid:[60,44,373,121],ya:MBPS,
  series:[{name:'pfsense (helios)',color:C.green,data:vmInPfsense}],
  table:{left:458,top:69,names:['pfsense (helios)'],values:vmInCurrent,vw:52}});
tsPanel({title:'VMs Traffic Out',x:647,y:2608,w:625,h:193,grid:[60,44,373,121],ya:MBPS,
  series:[{name:'pfsense (helios)',color:C.green,data:vmOutPfsense}],
  table:{left:460,top:69,names:['pfsense (helios)'],values:vmOutCurrent,vw:52}});
tsPanel({title:'LCXs Traffic In',x:14,y:2808,w:625,h:192,grid:[60,44,351,121],ya:MBPS,
  series:lxcSeries(lxcNetNames.concat(['zeus (helios)']),{'downloadarr (helios)':lxcInDownloadarr,'eos (helios)':lxcInEos}),
  table:{left:437,top:69,names:lxcNetNames,values:lxcInCurrent,vw:52,scroll:[44,157]}});
tsPanel({title:'LXCs Traffic Out',x:647,y:2808,w:625,h:192,grid:[54,44,357,121],ya:{min:0,max:50,step:10,labels:['0 b/s','10 Mb/s','20 Mb/s','30 Mb/s','40 Mb/s','50 Mb/s']},
  series:lxcSeries(lxcNetNames.concat(['zeus (helios)']),{'downloadarr (helios)':lxcOutDownloadarr,'eos (helios)':lxcOutEos}),
  table:{left:438,top:69,names:lxcNetNames,values:lxcOutCurrent,vw:52,scroll:[44,170]}});

// ======================= STORAGE POOLS =======================
(function(){
  const d=mkDiv(0,3030,1281,250,''); const ch=echarts.init(d);
  const cx=[167.5,487.5,802,1119], tx=[169,486,803,1118];
  let series=[], graphic=[];
  poolNames.forEach((n,i)=>{
    const v=poolValues[i];
    series=series.concat(gaugePair(cx[i],178,129,4,3,34,v,100,poolSteps,['#299c46','#ED8128','#d44a3a'],v.toFixed(1)+'%',44,17));
    graphic.push({type:'text',x:tx[i],y:26,silent:true,style:{text:n,fill:TITLE,font:'500 12px '+FONT,align:'center',textAlign:'center',verticalAlign:'middle',textVerticalAlign:'middle'}});
  });
  ch.setOption({animation:false,series,graphic});
})();
</script>
</body>
</html>
